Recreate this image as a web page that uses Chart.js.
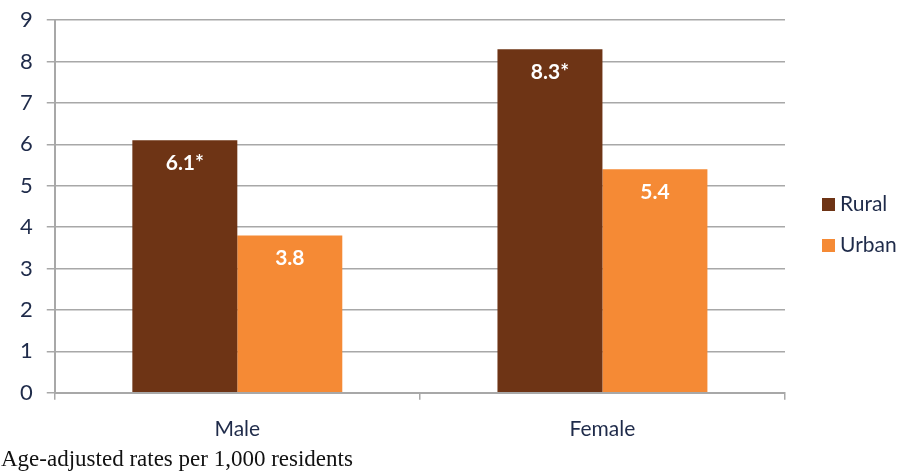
<!DOCTYPE html>
<html>
<head>
<meta charset="utf-8">
<script src="https://cdn.jsdelivr.net/npm/chart.js@4/dist/chart.umd.min.js"></script>
<style>
  body { margin: 0; background: #fff; width: 908px; height: 473px; overflow: hidden; position: relative; }
  #chart { position: absolute; left: 0; top: -7px; }
  #note { position: absolute; left: 1px; top: 446px; font-family: "Liberation Serif", serif; font-size: 23px; color: #111; }
</style>
</head>
<body>
<canvas id="chart" width="908" height="466"></canvas>
<div id="note">Age-adjusted rates per 1,000 residents</div>
<script>
// Data
const categories = ['Male', 'Female'];
const seriesNames = ['Rural', 'Urban'];
const ruralValues = [6.1, 8.3];
const urbanValues = [3.8, 5.4];
const ruralLabels = ['6.1*', '8.3*'];
const urbanLabels = ['3.8', '5.4'];
const yTicks = [0, 1, 2, 3, 4, 5, 6, 7, 8, 9];

const colors = ['#6E3415', '#F58A35'];
const textColor = '#1F2B4A';
const gridColor = '#A8A8A8';
const fontFamily = 'Lato, "Open Sans", sans-serif';

// etiquetas blancas dentro de las barras
const barLabels = {
    id: 'barLabels',
    afterDatasetsDraw(chart) {
        const ctx = chart.ctx;
        const labelSets = [ruralLabels, urbanLabels];
        ctx.save();
        ctx.fillStyle = '#fff';
        ctx.font = 'bold 21px ' + fontFamily;
        ctx.textAlign = 'center';
        ctx.textBaseline = 'middle';
        chart.data.datasets.forEach((ds, i) => {
            chart.getDatasetMeta(i).data.forEach((bar, j) => {
                ctx.fillText(labelSets[i][j], bar.x, bar.y + 23);
            });
        });
        ctx.restore();
    }
};

// leyenda a la derecha
const sideLegend = {
    id: 'sideLegend',
    afterDraw(chart) {
        const ctx = chart.ctx;
        ctx.save();
        ctx.font = '21px ' + fontFamily;
        ctx.textBaseline = 'middle';
        chart.data.datasets.forEach((ds, i) => {
            const y = 211 + i * 41;
            ctx.fillStyle = ds.backgroundColor;
            ctx.fillRect(822, y - 6, 13, 13);
            ctx.fillStyle = textColor;
            ctx.fillText(ds.label, 840, y);
        });
        ctx.restore();
    }
};

new Chart(document.getElementById('chart'), {
    type: 'bar',
    data: {
        labels: categories,
        datasets: [
            { label: seriesNames[0], data: ruralValues, backgroundColor: colors[0] },
            { label: seriesNames[1], data: urbanValues, backgroundColor: colors[1] }
        ]
    },
    options: {
        responsive: false,
        animation: false,
        layout: { padding: { top: 6, right: 123, left: 6, bottom: 0 } },
        datasets: { bar: { categoryPercentage: 0.575, barPercentage: 1.0 } },
        plugins: { legend: { display: false }, tooltip: { enabled: false } },
        scales: {
            x: {
                grid: { drawOnChartArea: false, drawTicks: true, tickLength: 7, color: gridColor, lineWidth: 1.5 },
                border: { color: gridColor, width: 2 },
                ticks: { color: textColor, font: { family: fontFamily, size: 21 }, padding: 17 }
            },
            y: {
                min: 0,
                max: 9,
                afterBuildTicks: (axis) => { axis.ticks = yTicks.map(v => ({ value: v })); },
                grid: { color: gridColor, lineWidth: 1.5, tickLength: 8 },
                border: { color: gridColor, width: 2 },
                ticks: { color: textColor, font: { family: fontFamily, size: 22 }, padding: 14 }
            }
        }
    },
    plugins: [barLabels, sideLegend]
});
</script>
</body>
</html>
